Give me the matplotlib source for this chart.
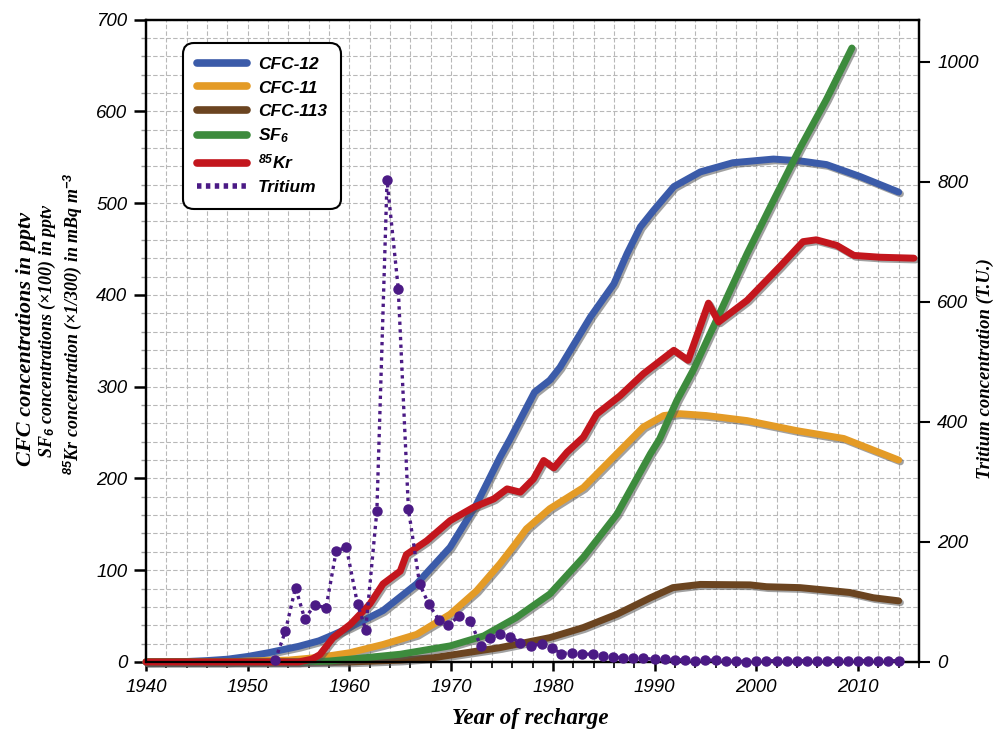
import matplotlib
matplotlib.use("Agg")
import matplotlib.pyplot as plt
import matplotlib.patheffects as pe
from matplotlib.ticker import MultipleLocator
from matplotlib.lines import Line2D

plt.rcParams['mathtext.fontset'] = 'custom'
plt.rcParams['mathtext.rm'] = 'Liberation Sans:italic:bold'
plt.rcParams['mathtext.it'] = 'Liberation Serif:italic:bold'
plt.rcParams['mathtext.bf'] = 'Liberation Serif:bold'

# ---------------- data ----------------
cfc12_years = [1940, 1944, 1946, 1948, 1950, 1952, 1955, 1957, 1958.5, 1960, 1963.3, 1966.6,
               1969.9, 1972.5, 1974.8, 1975.8, 1978.2, 1979.7, 1980.7, 1983.7, 1986.0, 1987.3,
               1988.6, 1989.9, 1991.9, 1994.5, 1997.7, 2001.7, 2004.3, 2006.9, 2010.2, 2014]
cfc12_vals = [0, 0.5, 1.5, 3, 6, 10, 17, 23, 30, 37.5, 56, 85,
              125, 172, 223, 243, 294, 307, 321, 376, 412, 445,
              474, 492, 518, 534, 544, 548, 546, 542, 529, 512]

cfc11_years = [1940, 1948, 1950, 1954, 1957, 1960, 1963.3, 1966.6, 1969.9, 1972.5, 1974.8,
               1976.2, 1977.4, 1979.7, 1983.0, 1986.3, 1988.9, 1990.9, 1992.5, 1995.1, 1999.1,
               2004.0, 2008.6, 2014]
cfc11_vals = [0, 0, 1, 2, 5, 10, 19, 30, 52, 77.5, 107,
              127, 145, 167, 190, 227, 256, 268.5, 270.5, 268.5, 263,
              252, 243.5, 220]

cfc113_years = [1940, 1960, 1965, 1968.3, 1974.8, 1979.7, 1983.0, 1986.3, 1989.6, 1991.8,
                1994.5, 1999.4, 2001.0, 2004.3, 2007.6, 2009.2, 2011.5, 2014]
cfc113_vals = [0, 0, 2, 4.7, 15.6, 26.5, 37.5, 52, 70, 81,
               84.5, 84, 82, 81, 77.5, 75.7, 70, 66.6]

sf6_years = [1940, 1955, 1958, 1960, 1965, 1969.9, 1973.2, 1976.4, 1979.7, 1983.0, 1986.3,
             1989.6, 1990.5, 1992.2, 1993.8, 1996.4, 1999.1, 2001.7, 2004.3, 2006.9, 2009.4]
sf6_vals = [0, 0, 1, 3, 8.4, 17.5, 28.4, 48.4, 74, 114, 161,
            227, 243, 285, 318, 380, 445, 503, 560, 613, 669]

kr85_years = [1940, 1955, 1956.3, 1957.1, 1958.4, 1960.1, 1962.0, 1963.3, 1965.0, 1965.6,
              1967.6, 1969.9, 1972.2, 1974.2, 1975.5, 1976.8, 1978.1, 1979.1, 1980.1, 1981.4,
              1983.0, 1984.3, 1986.6, 1988.9, 1991.9, 1993.3, 1995.3, 1996.3, 1999.1, 2002.3,
              2004.6, 2005.9, 2007.9, 2009.6, 2012.2, 2015.5]
kr85_vals = [0, 0, 3, 8, 26.5, 41, 63, 85, 99, 117,
             132, 154, 168.5, 177.7, 188.6, 185, 199.5, 219.5, 211.5, 228.6,
             245, 270, 290, 314, 339.6, 328.7, 391, 370.5, 394, 430.6,
             458, 460, 454, 443, 441, 440]

tritium_years = [1952.7, 1953.7, 1954.7, 1955.6, 1956.6, 1957.7, 1958.7, 1959.7, 1960.8, 1961.6,
                 1962.7, 1963.7, 1964.8, 1965.8, 1966.9, 1967.8, 1968.8, 1969.7, 1970.8, 1971.9,
                 1972.9, 1973.8, 1974.8, 1975.8, 1976.8, 1977.9, 1978.9, 1979.9, 1980.8, 1981.9,
                 1982.9, 1983.9, 1984.9, 1985.9, 1986.9, 1987.9, 1988.9, 1990, 1991, 1992,
                 1993, 1994, 1995, 1996, 1997, 1998, 1999, 2000, 2001, 2002,
                 2003, 2004, 2005, 2006, 2007, 2008, 2009, 2010, 2011, 2012, 2013, 2014]
tritium_vals = [3, 51, 124, 72, 95, 90, 185, 191, 96, 54,
                252, 802, 622, 255, 130, 96, 70, 61, 77, 68,
                27, 40, 46, 42, 32, 27, 30, 24, 14, 15.5,
                13, 13, 10, 8, 7, 6, 6, 4.5, 4.5, 4,
                3, 2, 3, 3, 2, 2, 0, 2, 2, 2,
                2, 2, 2, 2, 2, 2, 2, 2, 2, 2, 2, 2]

x_ticks = [1940, 1950, 1960, 1970, 1980, 1990, 2000, 2010]
left_ticks = [0, 100, 200, 300, 400, 500, 600, 700]
right_ticks = [0, 200, 400, 600, 800, 1000]

# ---------------- figure ----------------
fig = plt.figure(figsize=(10, 7.3), dpi=100)
ax = fig.add_axes([0.146, 0.0932, 0.773, 0.880])
ax2 = ax.twinx()

shadow = [pe.SimpleLineShadow(offset=(1.3, -1.3), shadow_color='#555555', alpha=0.55),
          pe.Normal()]

series = [
    (cfc12_years, cfc12_vals, '#3b5ba9', 'CFC-12'),
    (cfc11_years, cfc11_vals, '#e49b26', 'CFC-11'),
    (cfc113_years, cfc113_vals, '#6b4420', 'CFC-113'),
    (sf6_years, sf6_vals, '#3d8b3d', r'SF$_\mathrm{6}$'),
    (kr85_years, kr85_vals, '#c3161d', r'$^\mathrm{85}$Kr'),
]
handles = []
for xs, ys, col, lab in series:
    ax.plot(xs, ys, color=col, lw=5.0, solid_capstyle='round',
            solid_joinstyle='round', clip_on=False, path_effects=shadow, zorder=3)
    handles.append(Line2D([], [], color=col, lw=5.5, solid_capstyle='round', label=lab))

purple = '#4b1a85'
ax2.plot(tritium_years, tritium_vals, color=purple, lw=2.4, linestyle=(0, (1, 1.3)),
         clip_on=False, zorder=4)
ax2.plot(tritium_years, tritium_vals, 'o', color=purple, ms=6.5, clip_on=False, zorder=5)
handles.append(Line2D([], [], color=purple, lw=4, linestyle=(0, (0.8, 0.8)), label='Tritium'))

# axes ranges
ax.set_xlim(1940, 2016)
ax.set_ylim(0, 700)
ax2.set_ylim(0, 1070)

ax.set_xticks(x_ticks)
ax.set_yticks(left_ticks)
ax2.set_yticks(right_ticks)
ax.xaxis.set_minor_locator(MultipleLocator(2))
ax.yaxis.set_minor_locator(MultipleLocator(20))

tick_font = dict(family='Liberation Sans', style='italic', size=13.5)
ax.set_xticklabels([str(t) for t in x_ticks], **tick_font)
ax.set_yticklabels([str(t) for t in left_ticks], **tick_font)
ax2.set_yticklabels([str(t) for t in right_ticks], **tick_font)

ax.tick_params(axis='x', which='major', direction='out', length=6.5, width=1.8, pad=6)
ax.tick_params(axis='x', which='minor', direction='out', length=4, width=1.2)
ax.tick_params(axis='y', which='major', direction='out', length=8.5, width=1.8, pad=5)
ax.tick_params(axis='y', which='minor', direction='out', length=3.5, width=1, color='#999999')
ax2.tick_params(axis='y', which='major', direction='out', length=8, width=1.5, pad=5)

for a in (ax, ax2):
    for s in a.spines.values():
        s.set_linewidth(1.6)
        s.set_color('black')

ax.grid(which='both', linestyle=(0, (4, 2)), color='#b8b8b8', lw=0.8, zorder=0)
ax.set_axisbelow(True)

# labels
fig.text(0.530, 0.016, 'Year of recharge', family='Liberation Serif', style='italic',
         weight='bold', size=16.5, ha='center', va='center')
fig.text(0.026, 0.535, 'CFC concentrations in pptv', family='Liberation Serif', style='italic',
         weight='bold', size=16, rotation=90, ha='center', va='center')
fig.text(0.047, 0.547, r'SF$_\mathit{6}$ concentrations (×100) in pptv', family='Liberation Serif',
         style='italic', weight='bold', size=13, rotation=90, ha='center', va='center')
fig.text(0.073, 0.557, r'$^\mathit{85}$Kr concentration (×1/300) in mBq m$^\mathit{-3}$',
         family='Liberation Serif', style='italic', weight='bold', size=13, rotation=90,
         ha='center', va='center')
fig.text(0.985, 0.495, 'Tritium concentration (T.U.)', family='Liberation Serif', style='italic',
         weight='bold', size=13.5, rotation=90, ha='center', va='center')

leg = ax2.legend(handles=handles, loc='upper left', bbox_to_anchor=(0.048, 0.963),
                 borderaxespad=0, handlelength=2.9, handletextpad=0.6, labelspacing=0.46,
                 borderpad=0.8, fancybox=True, framealpha=1, edgecolor='black',
                 prop=dict(family='Liberation Sans', style='italic', weight='bold', size=12.5))
leg.get_frame().set_linewidth(1.5)
leg.get_frame().set_boxstyle('round', pad=0, rounding_size=0.6)

fig.savefig('out.png', dpi=100)
